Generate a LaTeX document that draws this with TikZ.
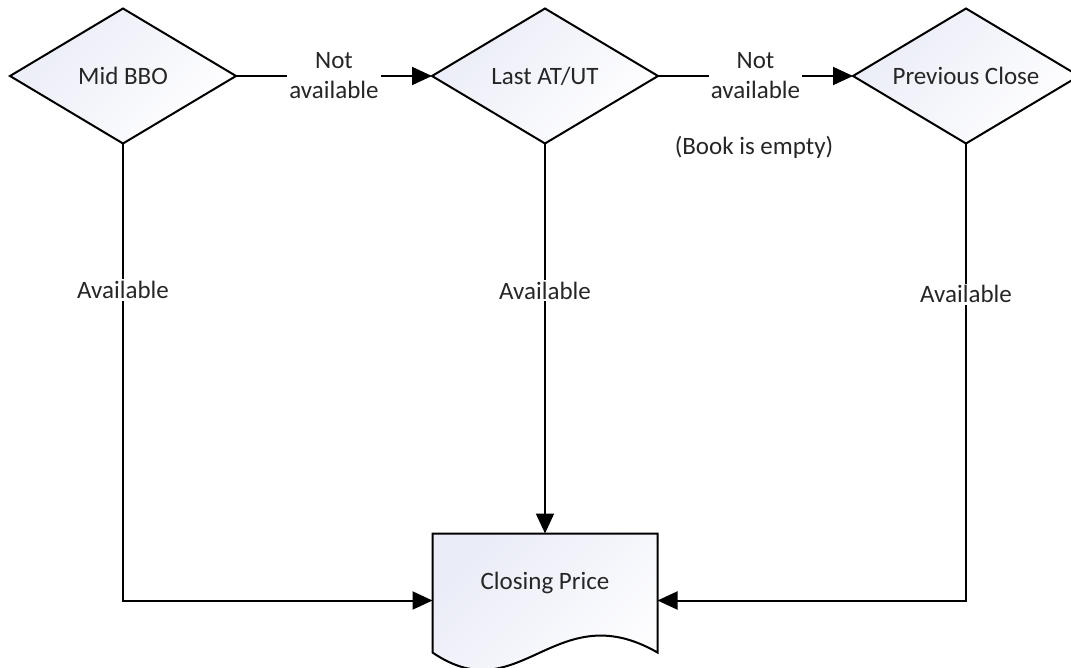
\documentclass[tikz,border=0pt]{standalone}
\usepackage{fontspec}
\setmainfont{Carlito}
\usetikzlibrary{shapes.geometric, arrows.meta, positioning, calc}

\definecolor{shadeblue}{RGB}{234,236,247}

\begin{document}
\begin{tikzpicture} [
    x=0.5pt, y=-0.5pt,
    every node/.style = { font=\fontsize{12.5}{15}\selectfont, text=black!85 },
    decision/.style   = { diamond, draw, line width=1pt, aspect=1.67,
                          inner sep=0pt, outer sep=0pt, text centered,
                          minimum width=113pt, minimum height=67.5pt,
                          top color=shadeblue, bottom color=white, shading angle=45 },
    docbox/.style     = { rectangle, draw=none, inner sep=0pt, outer sep=0pt,
                          minimum width=112.5pt, minimum height=67pt },
    docshape/.style   = { draw, line width=1pt,
                          top color=shadeblue, bottom color=white, shading angle=45 },
    lbl/.style        = { fill=white, inner sep=1pt, align=center },
    line/.style       = { draw, line width=1pt, -{Triangle[length=10pt, width=9pt]} },
  ]

  \clip (0,0) rectangle (1071,668);
  \useasboundingbox (0,0) rectangle (1071,668);

  % Define nodes
  \node[decision] (mid) at (123,76) {Mid BBO};
  \node[decision, right=98pt of mid] (last) {Last AT/UT};
  \node[decision, right=97.5pt of last] (prev) {Previous Close};
  \node[docbox, below=195pt of last] (doc) {};

  % document outline with wavy bottom
  \path[docshape] (doc.north west) -- (doc.north east)
    -- ($(doc.south east)+(0,-15)$)
    .. controls ($(doc.south)+(10,-74)$) and ($(doc.south)+(-25,45)$)
    .. ($(doc.south west)+(0,-15)$) -- cycle;
  \node (price) at ([yshift=9pt]doc.center) {Closing Price};

  % connect the nodes
  \path [line] (mid.east) -- node[lbl] (na1) {Not\\available} (last.west);
  \path [line] (last.east) -- node[lbl] (na2) {Not\\available} (prev.west);
  \node (empty) at (754,147) {(Book is empty)};
  \path [line] (mid.south) |- node[lbl, pos=0.16] (av1) {Available} (doc.west);
  \path [line] (last.south) -- node[lbl, pos=0.377] (av2) {Available} (doc.north);
  \path [line] (prev.south) |- node[lbl, pos=0.165] (av3) {Available} (doc.east);
\end{tikzpicture}
\end{document}
